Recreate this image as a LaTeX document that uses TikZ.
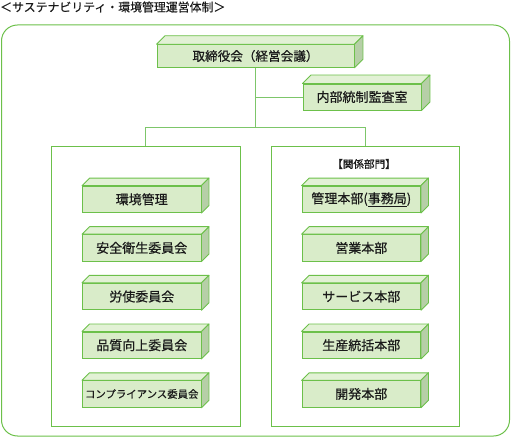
\documentclass[tikz,border=0pt]{standalone}
\usepackage{fontspec}
\setmainfont{Noto Sans CJK JP}
\newfontfamily\jpmed[FakeBold=0.5]{Noto Sans CJK JP}
\newfontfamily\jpbold[FakeBold=1.2]{Noto Sans CJK JP}
\usetikzlibrary{calc}
\definecolor{gedge}{HTML}{6CC04A}
\definecolor{gline}{HTML}{7DC66A}
\definecolor{gfill}{HTML}{D9ECC9}
\definecolor{gtop}{HTML}{E2F1D5}
\definecolor{gside}{HTML}{B6CFA7}
\definecolor{tcol}{HTML}{1A1A1A}
\tikzset{
  every node/.style={text=tcol},
  cubebox/.style={draw=gedge, fill=gfill, line width=0.9pt, inner sep=0pt,
    minimum width=118.5pt, minimum height=26.5pt, font=\jpmed\fontsize{13}{15}\selectfont},
  frame/.style={draw=gedge, line width=1pt},
  conn/.style={draw=gline, line width=0.9pt},
}
\newcommand\cubefaces[2]{%
  \filldraw[fill=gtop, draw=gedge, line width=0.9pt, line join=round]
    (#1.north west) -- ++(#2,#2) -- ($(#1.north east)+(#2,#2)$) -- (#1.north east) -- cycle;
  \filldraw[fill=gside, draw=gedge, line width=0.9pt, line join=round]
    (#1.north east) -- ++(#2,#2) -- ($(#1.south east)+(#2,#2)$) -- (#1.south east) -- cycle;
}
\begin{document}
\begin{tikzpicture}[x=1pt,y=1pt]
\useasboundingbox (0,0) rectangle (511,-438);
% title
\node[anchor=west, inner sep=0pt, font=\jpmed\fontsize{11.9}{13}\selectfont] (title) at (0,-7) {＜サステナビリティ・環境管理運営体制＞};
% outer frame
\draw[frame, rounded corners=16pt] (1.5,-25) rectangle (509.5,-436);
% containers
\node[frame, minimum width=188.5pt, minimum height=279pt, inner sep=0pt] (lc) at (145.75,-286.5) {};
\node[frame, minimum width=188pt, minimum height=279pt, inner sep=0pt] (rc) at (365,-286.5) {};
% junctions
\coordinate (j1) at (255.5,-97);
\coordinate (j2) at (255.5,-127);
% top box
\node[cubebox, minimum width=197pt, minimum height=22.6pt, font=\jpmed\fontsize{12.6}{14}\selectfont] (top) at (255.5,-56) {取締役会（経営会議）};
\cubefaces{top}{8.5}
% audit
\node[cubebox, minimum width=118pt, minimum height=26pt] (audit) at (362,-97) {内部統制監査室};
\cubefaces{audit}{8.5}
% connectors
\draw[conn] (top.south) -- (j2);
\draw[conn] (j1) -- (audit.west);
\draw[conn] (j2) -| (lc.north);
\draw[conn] (j2) -| (rc.north);
% left column
\node[cubebox] (l1) at (141.75,-199.3) {環境管理};
\node[cubebox] (l2) at (141.75,-247.9) {安全衛生委員会};
\node[cubebox] (l3) at (141.75,-296.5) {労使委員会};
\node[cubebox] (l4) at (141.75,-345.2) {品質向上委員会};
\node[cubebox, font=\jpmed\fontsize{10.4}{12}\selectfont] (l5) at (141.75,-394) {コンプライアンス委員会};
\foreach \n in {l1,l2,l3,l4,l5} {\cubefaces{\n}{7.5}}
% right column
\node[font=\jpbold\fontsize{10.6}{12}\selectfont, inner sep=0pt] (rlabel) at (364,-164) {【関係部門】};
\node[cubebox] (r1) at (361.3,-199.3) {管理本部(\underline{事務局})};
\node[cubebox] (r2) at (361.3,-247.9) {営業本部};
\node[cubebox] (r3) at (361.3,-296.5) {サービス本部};
\node[cubebox] (r4) at (361.3,-345.2) {生産統括本部};
\node[cubebox] (r5) at (361.3,-394) {開発本部};
\foreach \n in {r1,r2,r3,r4,r5} {\cubefaces{\n}{7.5}}
\end{tikzpicture}
\end{document}
